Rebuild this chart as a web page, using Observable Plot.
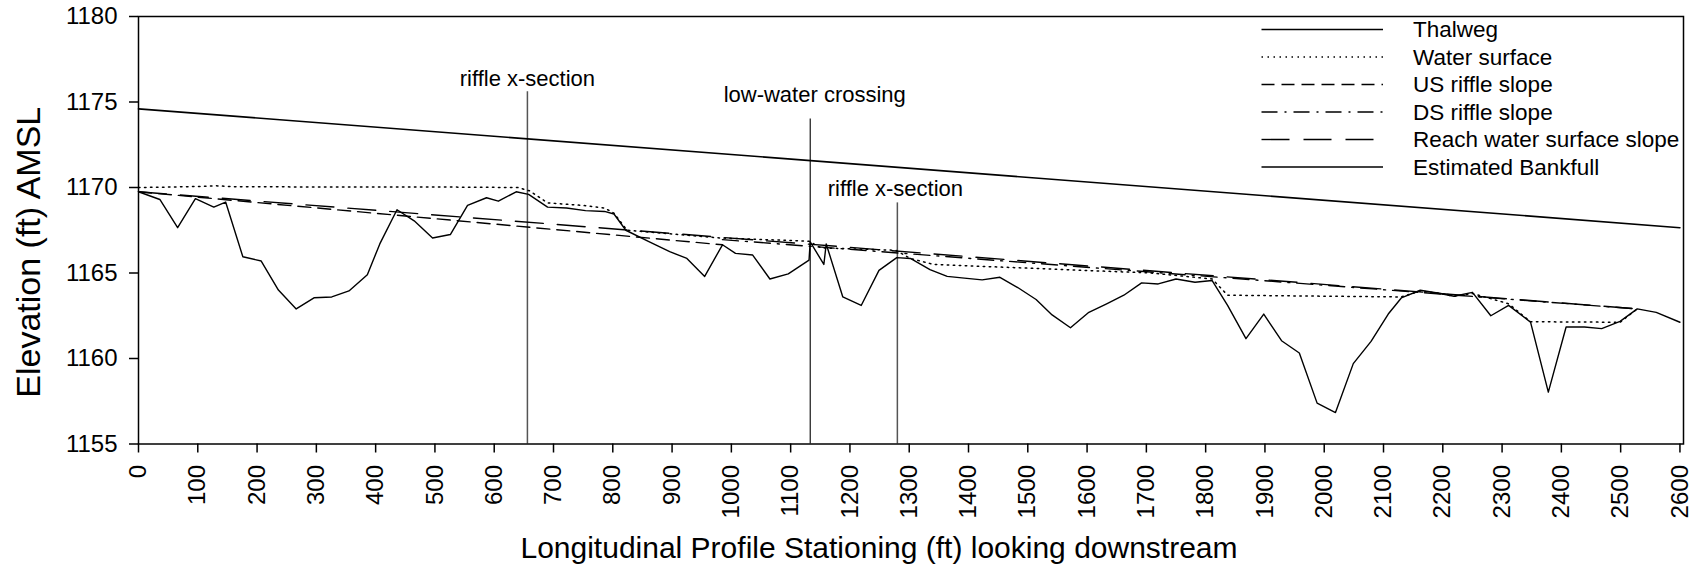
<!DOCTYPE html>
<html><head><meta charset="utf-8">
<script src="https://cdn.jsdelivr.net/npm/d3@7"></script>
<script src="https://cdn.jsdelivr.net/npm/@observablehq/plot@0.6"></script>
<style>body{margin:0;background:#fff;} svg{display:block}</style>
</head><body><div id="chart"></div>
<script>
// ---- data ----
const thalwegStation = [0,36,66,96,127,147,176,207,236,266,296,326,355,386,407,436,465,496,526,555,587,607,637,658,690,722,754,786,802,822,860,896,925,955,985,1007,1036,1065,1096,1131,1133,1156,1160,1188,1219,1249,1279,1302,1335,1364,1393,1423,1453,1483,1514,1541,1572,1603,1633,1662,1692,1720,1750,1782,1811,1837,1868,1898,1928,1958,1988,2019,2049,2079,2108,2130,2162,2191,2219,2250,2281,2311,2348,2378,2408,2439,2468,2499,2528,2560,2600];
const thalwegElev = [1169.75,1169.3,1167.65,1169.35,1168.85,1169.15,1165.95,1165.7,1164.0,1162.9,1163.55,1163.6,1163.95,1164.9,1166.7,1168.7,1168.05,1167.05,1167.25,1168.95,1169.4,1169.2,1169.75,1169.6,1168.85,1168.8,1168.65,1168.6,1168.45,1167.5,1166.85,1166.25,1165.85,1164.8,1166.65,1166.15,1166.05,1164.65,1164.95,1165.75,1166.82,1165.5,1166.7,1163.6,1163.1,1165.15,1165.9,1165.85,1165.2,1164.8,1164.7,1164.6,1164.75,1164.15,1163.45,1162.55,1161.8,1162.7,1163.2,1163.7,1164.42,1164.36,1164.65,1164.46,1164.56,1163.11,1161.16,1162.6,1161.04,1160.32,1157.39,1156.84,1159.7,1161.0,1162.6,1163.54,1163.99,1163.83,1163.64,1163.87,1162.5,1163.11,1162.13,1158.03,1161.84,1161.84,1161.75,1162.17,1162.9,1162.7,1162.12];
const waterStation = [0,60,100,130,160,300,500,640,660,690,750,786,802,824,980,1131,1133,1151,1277,1302,1341,1708,1811,1837,2130,2162,2191,2219,2250,2281,2311,2348,2499,2528];
const waterElev = [1170.0,1170.03,1170.06,1170.1,1170.05,1170.03,1170.03,1170.0,1169.8,1169.1,1168.95,1168.8,1168.5,1167.5,1167.05,1166.86,1166.82,1166.47,1166.33,1165.85,1165.5,1165.0,1164.65,1163.7,1163.6,1163.95,1163.83,1163.64,1163.8,1163.5,1163.2,1162.15,1162.12,1162.9];
const bankfullStation = [0, 2600];
const bankfullElev = [1174.6, 1167.65];
const usRiffleStation = [0, 985];
const usRiffleElev = [1169.75, 1166.65];
const dsRiffleStation = [985, 2528];
const dsRiffleElev = [1166.95, 1162.9];
const reachStation = [0, 2528];
const reachElev = [1169.75, 1162.9];
const markerStation = [656, 1133, 1280];
const markerTop = [1175.6, 1174.0, 1169.1];
const markerKind = ["riffle", "crossing", "riffle"];
const markerLabel = ["riffle x-section", "low-water crossing", "riffle x-section"];
const markerLabelElev = [1175.94, 1175.0, 1169.5];
const xTicks = d3.range(0, 2601, 100);
const yTicks = [1155, 1160, 1165, 1170, 1175, 1180];
const legendLabels = ["Thalweg", "Water surface", "US riffle slope", "DS riffle slope", "Reach water surface slope", "Estimated Bankfull"];
const xTitle = "Longitudinal Profile Stationing (ft) looking downstream";
const yTitle = "Elevation (ft) AMSL";

// ---- styles ----
const lineStyles = [
  {w: 1.4, dash: null},
  {w: 1.5, dash: "1.5,4.5"},
  {w: 1.4, dash: "13,7"},
  {w: 1.4, dash: "16,7,2,7"},
  {w: 1.4, dash: "28,14"},
  {w: 1.6, dash: null}
];
const markerLabelDx = [0, 4.5, -2];

const rows = (xs, ys) => xs.map((x, i) => ({x, y: ys[i]}));
const thalweg = rows(thalwegStation, thalwegElev);
const water = rows(waterStation, waterElev);
const bankfull = rows(bankfullStation, bankfullElev);
const usRiffle = rows(usRiffleStation, usRiffleElev);
const dsRiffle = rows(dsRiffleStation, dsRiffleElev);
const reach = rows(reachStation, reachElev);
const markers = markerStation.map((x, i) => ({x, top: markerTop[i], kind: markerKind[i], label: markerLabel[i], ly: markerLabelElev[i], bottom: yTicks[0]}));

const font = "'Liberation Sans', Arial, Helvetica, sans-serif";
const lineMark = (data, s) => Plot.line(data, {x: "x", y: "y", stroke: "black", strokeWidth: s.w, strokeDasharray: s.dash ?? undefined});

const chart = Plot.plot({
  width: 1700, height: 575,
  marginLeft: 138, marginRight: 17, marginTop: 16, marginBottom: 131.5,
  style: {fontFamily: font, fontSize: "24px", background: "white", color: "black"},
  x: {domain: [0, 2606]},
  y: {domain: [1155, 1180]},
  marks: [
    Plot.axisX({ticks: xTicks, tickFormat: "d", tickSize: 9, tickPadding: 12, tickRotate: -90, label: null, fontSize: 24, strokeWidth: 1.5}),
    Plot.axisY({ticks: yTicks, tickFormat: "d", tickSize: 9, tickPadding: 12, label: null, fontSize: 24, strokeWidth: 1.5}),
    Plot.ruleX(markers.filter(d => d.kind === "riffle"), {x: "x", y1: "top", y2: "bottom", stroke: "#555", strokeWidth: 1.5}),
    Plot.ruleX(markers.filter(d => d.kind === "crossing"), {x: "x", y1: "top", y2: "bottom", stroke: "black", strokeWidth: 1.1}),
    lineMark(bankfull, lineStyles[5]),
    lineMark(water, lineStyles[1]),
    lineMark(usRiffle, lineStyles[2]),
    lineMark(dsRiffle, lineStyles[3]),
    lineMark(reach, lineStyles[4]),
    lineMark(thalweg, lineStyles[0]),
    ...markers.map((m, i) => Plot.text([m], {x: "x", y: "ly", text: "label", dx: markerLabelDx[i], lineAnchor: "bottom", fontSize: 22, fill: "black"})),
    Plot.text([xTitle], {text: d => d, frameAnchor: "bottom", textAnchor: "middle", dx: -32, dy: 113.5, lineAnchor: "bottom", fontSize: 30, fill: "black"}),
    Plot.text([yTitle], {text: d => d, frameAnchor: "left", textAnchor: "middle", dx: -109, dy: 22, rotate: -90, fontSize: 34, fill: "black"}),
    Plot.frame({stroke: "black", strokeWidth: 1.5})
  ]
});
document.getElementById("chart").appendChild(chart);

// ---- legend (inside the frame, top right) ----
const svg = d3.select(chart);
const lg = svg.append("g").attr("font-family", font).attr("font-size", 22.5).attr("text-anchor", "start");
legendLabels.forEach((label, i) => {
  const y = 29.5 + i * 27.5;
  const s = lineStyles[i];
  const ln = lg.append("line").attr("x1", 1261.5).attr("x2", 1383).attr("y1", y).attr("y2", y)
    .attr("stroke", "black").attr("stroke-width", s.w);
  if (s.dash) ln.attr("stroke-dasharray", s.dash);
  lg.append("text").attr("x", 1413).attr("y", y).attr("dy", "0.35em").attr("fill", "black").attr("text-anchor", "start").text(label);
});
</script>
</body></html>
